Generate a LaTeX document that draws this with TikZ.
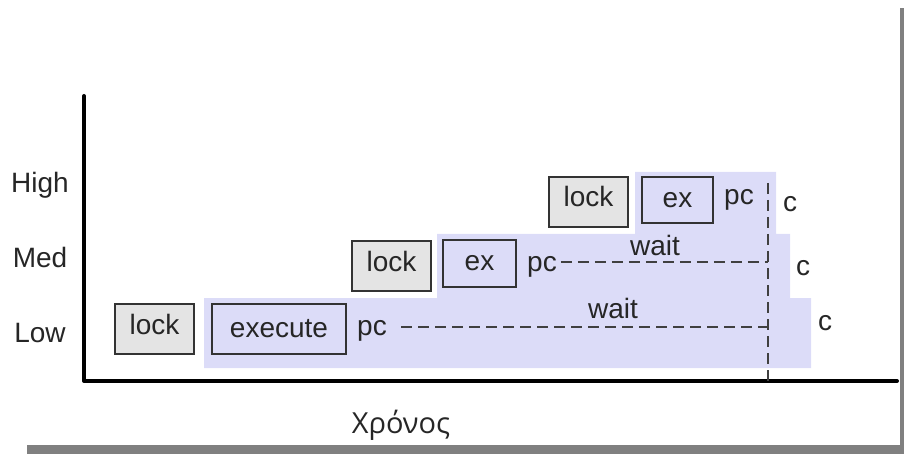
\documentclass[tikz,border=0pt]{standalone}
\usepackage{fontspec}
\setmainfont{Liberation Sans}
\newfontfamily\greekfont{Open Sans}
\definecolor{bandblue}{HTML}{DCDCF8}
\definecolor{boxgray}{HTML}{E4E4E4}
\definecolor{edgegray}{HTML}{333333}
\definecolor{framegray}{HTML}{808080}
\begin{document}
\begin{tikzpicture}[x=1pt,y=-1pt,
  every node/.style={inner sep=0pt, font=\fontsize{28}{32}\selectfont, text=black!85},
  lockbox/.style={draw=edgegray, line width=2pt, fill=boxgray, minimum width=79pt, minimum height=50pt,
    text height=20pt, text depth=10pt},
  runbox/.style={draw=edgegray, line width=2pt, fill=bandblue},
  lbl/.style={anchor=base},
  waitline/.style={dash pattern=on 11pt off 6pt, line width=1.6pt, draw=black!75},
  axisline/.style={line width=4pt, line cap=round, line join=round}]
\useasboundingbox (0,0) rectangle (904,454);
% frame shadow along right and bottom
\fill[framegray] (900,8) rectangle (904,454);
\fill[framegray] (27,445) rectangle (904,454);
% priority bands
\fill[bandblue] (204,368) -- (204,298) -- (437,298) -- (437,234) -- (635,234) -- (635,172)
  -- (776,172) -- (776,234) -- (790,234) -- (790,298) -- (811,298) -- (811,368) -- cycle;
% axes
\coordinate (ytop) at (84,96);
\coordinate (origin) at (84,381);
\coordinate (xend) at (897,381);
\draw[axisline] (ytop) -- (origin) -- (xend);
% axis labels
\node[lbl] (hi) at (40,193) {High};
\node[lbl] (med) at (40,267) {Med};
\node[lbl] (low) at (40,342) {Low};
\node[lbl, font=\greekfont\fontsize{29}{32}\selectfont] (time) at (401,433) {Χρόνος};
% low priority task
\node[lockbox] (lockL) at (154.5,329) {lock};
\node[runbox, minimum width=134pt, minimum height=50pt] (exL) at (279,329) {execute};
\node[lbl] (pcL) at (372,335) {pc};
% medium priority task
\node[lockbox] (lockM) at (391.5,266) {lock};
\node[runbox, minimum width=73pt, minimum height=47pt] (exM) at (479.5,263.5) {ex};
\node[lbl] (pcM) at (542,272) {pc};
% high priority task
\node[lockbox] (lockH) at (588.5,202) {lock};
\node[runbox, minimum width=71pt, minimum height=46pt] (exH) at (677.5,200) {ex};
\node[lbl] (pcH) at (739,205) {pc};
% waiting periods up to the common release point
\coordinate (relTop) at (768,183);
\coordinate (relBot) at (768,381);
\coordinate (joinM) at (768,262);
\coordinate (joinL) at (768,327);
\coordinate (startL) at (401,327);
\draw[waitline] (relTop) -- (relBot);
\draw[waitline] (pcM.east |- joinM) ++(4,0) -- (joinM);
\draw[waitline] (startL) -- (joinL);
\node[lbl] (waitM) at (655,255) {wait};
\node[lbl] (waitL) at (613,318) {wait};
% completion marks
\node[lbl] (cH) at (790,212) {c};
\node[lbl] (cM) at (803,275) {c};
\node[lbl] (cL) at (825,330) {c};
\end{tikzpicture}
\end{document}
